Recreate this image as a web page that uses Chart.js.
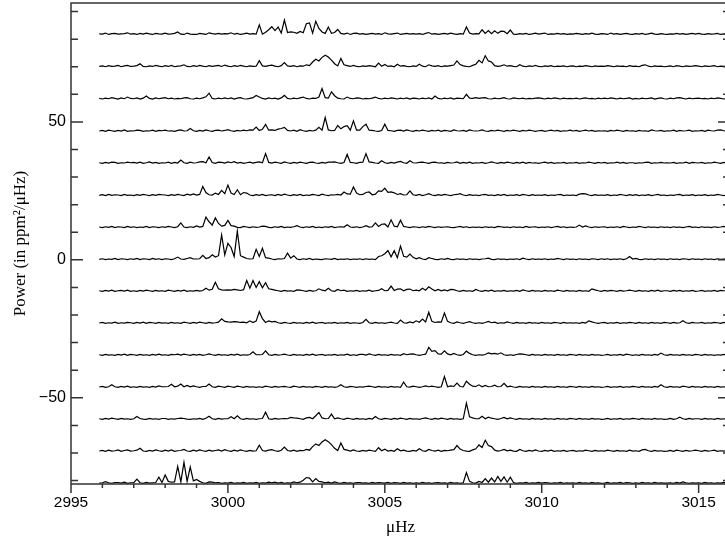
<!DOCTYPE html>
<html><head><meta charset="utf-8">
<script src="https://cdn.jsdelivr.net/npm/chart.js@4.4.1/dist/chart.umd.min.js"></script>
<style>html,body{margin:0;padding:0;background:#fff;overflow:hidden;}#wrap{width:733px;height:536px;}</style>
</head><body><div id="wrap"><canvas id="c" width="733" height="536"></canvas></div>
<script>
// Power spectra (ppm^2/uHz), one value per 0.1 uHz bin starting at 2995.9 uHz
const freqStart = 2995.9, freqStep = 0.1;
const p0 = [0.3,
0.2,0.6,0.1,0.4,0.5,0.2,0.3,0.4,0.7,0.2,
0.4,0.1,0.5,0.2,0.6,0.3,0.1,0.5,0.3,0.2,
0.6,0.2,0.3,0.5,1.0,0.2,0.1,0.6,0.2,0.1,
0.1,0.5,0.3,0.1,0.7,0.4,0.2,0.5,0.2,0.4,
0.3,0.7,0.2,0.5,0.1,0.3,0.6,0.2,0.4,0.2,
3.6,0.2,0.9,1.8,2.9,1.5,2.8,0.6,5.3,0.8,
1.0,0.9,0.5,1.2,0.7,4.0,4.3,0.6,4.9,2.3,
1.0,0.5,2.8,0.5,0.8,1.9,0.5,0.2,0.6,0.1,
0.5,0.6,0.2,0.4,0.1,0.3,0.5,0.2,0.4,0.1,
0.7,0.3,0.2,0.4,0.6,0.1,0.3,0.5,0.2,0.4,
0.2,0.4,0.1,0.5,0.8,0.2,0.4,0.1,0.3,0.5,
0.2,0.6,0.3,0.1,0.4,0.2,2.8,0.6,0.2,0.4,
0.3,1.8,0.5,1.5,0.4,1.4,0.5,1.3,1.2,0.4,
1.7,0.2,0.1,0.4,0.2,0.5,0.1,0.3,0.6,0.2,
0.4,0.6,0.1,0.3,0.2,0.5,0.2,0.4,0.1,0.3,
0.2,0.5,0.3,0.1,0.4,0.2,0.6,0.2,0.1,0.4,
0.3,0.1,0.6,0.2,0.4,0.1,0.3,0.5,0.2,0.1,
0.4,0.2,0.5,0.1,0.3,0.6,0.2,0.1,0.4,0.2,
0.1,0.3,0.2,0.5,0.2,0.4,0.1,0.3,0.5,0.2,
0.5,0.2,0.1,0.4,0.2,0.3,0.5,0.1,0.3,0.2];
const p1 = [0.2,
0.4,0.1,0.5,0.2,0.3,0.6,0.1,0.4,0.6,0.2,
0.3,0.5,1.2,0.2,0.1,0.4,0.2,0.6,0.3,0.1,
0.5,0.2,0.6,0.1,0.3,0.4,0.8,0.2,0.1,0.5,
0.2,0.6,0.3,0.1,0.5,0.2,0.4,0.6,0.2,0.7,
0.3,0.1,0.5,0.2,0.6,0.3,0.1,0.4,0.2,0.3,
2.3,0.4,0.2,0.5,0.7,0.3,0.1,0.5,1.6,0.4,
0.2,0.5,0.1,0.4,0.3,0.8,0.5,1.8,2.8,2.2,
3.5,4.3,3.6,2.5,1.2,0.4,3.1,0.8,0.5,0.2,
0.6,0.2,0.1,0.4,0.2,0.5,0.3,0.1,1.4,0.3,
0.9,0.2,0.4,0.1,1.0,0.3,0.5,0.2,0.1,0.4,
0.2,1.0,0.3,0.1,0.8,0.4,0.2,0.5,0.1,0.4,
0.3,0.5,0.7,2.2,0.9,0.4,0.2,0.1,0.6,1.0,
2.4,1.5,4.1,2.2,1.8,0.5,0.2,0.4,0.8,0.3,
0.5,0.2,0.1,0.8,0.3,0.1,0.4,0.2,0.6,0.2,
0.1,0.4,0.2,0.5,0.1,0.3,0.2,0.4,0.1,0.3,
0.4,0.1,0.3,0.2,0.5,0.3,0.1,0.4,0.2,0.3,
0.2,0.5,0.3,0.1,0.4,0.2,0.3,0.1,0.5,0.2,
0.3,0.1,0.6,0.8,0.3,0.1,0.4,0.2,0.3,0.1,
0.2,0.4,0.1,0.5,0.3,0.1,0.4,0.2,0.3,0.5,
0.3,0.1,0.4,0.2,0.3,0.5,0.1,0.3,0.2,0.4];
const p2 = [0.3,
0.1,0.4,0.2,0.6,0.3,0.1,0.5,0.2,0.8,0.3,
0.2,0.5,0.1,0.4,1.2,0.3,0.1,0.5,0.2,0.4,
0.6,0.2,0.4,0.1,0.3,0.2,0.5,0.6,0.2,0.1,
0.4,0.2,0.5,0.9,2.2,0.3,0.1,0.4,0.2,0.5,
0.2,0.5,0.1,0.4,0.6,0.2,0.1,0.3,0.6,1.4,
0.8,0.3,0.1,0.5,0.2,0.4,0.1,0.5,1.4,0.3,
0.1,0.4,0.2,0.5,0.8,0.3,0.1,0.4,0.3,0.8,
3.9,0.6,0.4,2.7,1.3,0.4,0.2,0.1,0.8,0.3,
0.2,0.5,0.4,0.1,0.3,0.2,0.4,0.8,0.3,0.1,
0.4,0.2,0.5,0.3,0.1,0.4,0.2,0.5,0.1,0.4,
0.3,0.1,0.4,0.2,0.5,0.1,1.2,0.3,0.1,0.4,
0.2,0.5,0.1,0.4,0.3,0.2,1.8,0.4,0.3,0.6,
0.3,0.5,0.6,0.2,0.1,0.4,0.2,0.3,0.6,0.2,
0.1,0.5,0.3,0.2,0.4,0.1,0.3,0.2,0.4,0.5,
0.3,0.1,0.4,0.2,0.5,0.3,0.1,0.4,0.2,0.3,
0.2,0.4,0.1,0.3,0.5,0.2,0.3,0.1,0.4,0.2,
0.4,0.2,0.5,0.3,0.1,0.4,0.2,0.3,0.5,0.1,
0.3,0.1,0.4,0.2,0.3,0.5,0.1,0.3,0.5,0.2,
0.1,0.4,0.2,0.5,0.6,0.3,0.1,0.4,0.2,0.3,
0.4,0.2,0.3,0.1,0.4,0.2,0.5,0.3,0.1,0.3];
const p3 = [0.2,
0.4,0.1,0.5,0.3,0.1,0.4,0.2,0.6,0.1,0.3,
0.2,0.5,0.4,0.1,0.3,0.2,0.5,0.1,0.4,0.3,
0.5,0.2,0.3,0.1,0.4,0.6,0.2,0.3,1.1,0.3,
0.1,0.4,0.2,0.6,0.3,0.1,0.4,0.5,0.2,0.4,
0.7,0.3,0.1,0.4,0.2,0.5,0.3,0.6,0.5,1.6,
0.4,0.8,2.6,0.5,0.6,0.4,0.9,1.1,1.5,0.4,
0.2,0.5,0.1,0.7,0.3,0.1,0.4,0.2,0.5,1.5,
0.5,5.1,0.6,0.3,0.4,2.2,1.0,1.8,2.1,0.5,
3.9,0.5,0.5,1.8,2.7,0.5,0.4,0.2,0.1,0.4,
2.7,0.4,0.3,0.1,0.4,0.5,0.2,0.6,0.3,0.1,
0.4,0.2,0.5,0.3,0.1,0.4,0.2,0.5,0.1,0.4,
0.3,0.1,0.6,0.3,0.2,0.4,0.1,0.6,0.3,0.2,
0.3,0.6,0.2,0.1,0.4,0.2,0.5,0.3,0.1,0.4,
0.2,0.5,0.3,0.1,0.4,0.2,0.5,0.3,0.1,0.3,
0.4,0.1,0.3,0.5,0.2,0.4,0.1,0.3,0.2,0.5,
0.2,0.4,0.1,0.3,0.5,0.2,0.4,0.1,0.3,0.2,
0.3,0.1,0.4,0.2,0.5,0.3,0.1,0.4,0.2,0.3,
0.1,0.4,0.2,0.3,0.1,0.6,0.3,0.2,0.4,0.1,
0.3,0.2,0.5,0.1,0.4,0.2,0.3,0.5,0.1,0.3,
0.2,0.4,0.1,0.5,0.3,0.2,0.5,0.6,0.3,0.1];
const p4 = [0.3,
0.1,0.4,0.2,0.5,0.4,0.1,0.3,0.2,0.5,0.3,
0.4,0.2,0.5,0.1,0.3,0.6,0.2,0.4,0.1,0.3,
0.2,0.5,0.1,0.4,0.2,1.3,0.3,0.1,0.5,0.2,
0.3,0.6,0.7,0.3,2.4,0.4,0.1,0.5,0.4,0.2,
0.6,0.3,0.7,0.2,0.4,0.1,0.3,0.5,0.2,0.4,
0.6,0.3,3.6,0.4,0.2,0.5,0.3,0.1,0.6,0.3,
0.1,0.4,0.2,0.5,0.3,0.1,0.4,0.5,0.2,0.1,
0.4,0.2,0.5,0.5,0.6,0.3,0.1,0.4,3.3,0.4,
0.3,0.1,0.4,0.5,3.6,0.6,0.4,0.2,0.1,1.0,
0.3,0.1,0.4,0.2,0.5,0.8,0.3,0.1,1.0,0.3,
0.2,0.4,0.5,0.3,0.1,0.4,0.5,0.2,0.3,0.1,
0.4,0.2,0.3,0.6,0.1,0.4,0.2,0.5,0.1,0.3,
0.2,0.4,0.1,0.3,0.6,0.3,0.1,0.4,0.2,0.5,
0.3,0.1,0.4,0.2,0.5,0.1,0.4,0.2,0.3,0.1,
0.3,0.5,0.2,0.4,0.1,0.3,0.2,0.4,0.1,0.3,
0.2,0.4,0.1,0.3,0.2,0.5,0.3,0.1,0.4,0.2,
0.4,0.1,0.3,0.2,0.5,0.2,0.4,0.1,0.3,0.3,
0.1,0.3,0.2,0.4,0.5,0.1,0.3,0.2,0.4,0.2,
0.3,0.2,0.4,0.1,0.3,0.2,0.5,0.1,0.4,0.3,
0.2,0.4,0.1,0.3,0.2,0.5,0.3,0.1,0.4,0.2];
const p5 = [0.2,
0.4,0.1,0.5,0.2,0.4,0.3,0.1,0.5,0.2,0.3,
0.1,0.4,0.2,0.5,0.3,0.1,0.4,0.2,0.5,0.4,
0.3,0.1,0.4,0.2,0.5,0.3,0.1,0.6,0.3,0.7,
0.3,0.5,3.4,1.2,0.4,0.3,1.0,0.5,2.0,0.8,
3.9,1.0,0.5,2.2,0.4,1.2,1.0,0.3,0.1,0.4,
0.2,0.5,0.1,0.3,0.4,0.1,0.5,0.2,0.6,0.3,
0.1,0.4,0.2,0.5,0.1,0.3,0.2,0.5,0.3,0.1,
0.6,0.3,0.1,0.4,0.3,0.5,0.3,1.4,0.7,0.6,
3.2,1.0,0.4,0.5,1.2,1.4,0.4,0.6,1.8,1.6,
2.8,1.3,1.4,1.1,0.5,0.8,0.3,0.4,1.8,0.4,
0.2,0.5,0.1,0.4,0.8,0.3,0.1,0.4,0.2,0.5,
0.3,0.1,0.4,0.5,0.8,0.3,0.1,0.4,0.2,0.3,
0.1,0.4,0.5,0.2,0.3,0.1,0.4,0.2,0.5,0.1,
0.3,0.2,0.4,0.1,0.5,0.3,0.1,0.4,0.2,0.3,
0.2,0.4,0.1,0.3,0.2,0.4,0.5,0.1,0.3,0.2,
0.3,0.1,0.6,0.8,0.7,0.3,0.1,0.4,0.2,0.3,
0.2,0.4,0.1,0.3,0.2,0.5,0.3,0.1,0.4,0.2,
0.4,0.1,0.3,0.2,0.4,0.1,0.3,0.5,0.2,0.3,
0.1,0.3,0.2,0.4,0.5,0.1,0.3,0.2,0.4,0.1,
0.3,0.2,0.4,0.1,0.3,0.2,0.5,0.3,0.1,0.3];
const p6 = [0.3,
0.1,0.4,0.2,0.5,0.1,0.4,0.3,0.1,0.5,0.2,
0.4,0.1,0.3,0.2,0.5,0.1,0.4,0.3,0.1,0.4,
0.2,0.5,0.3,0.1,0.4,1.8,0.3,0.1,0.4,0.2,
0.7,0.3,0.5,3.9,2.2,1.0,3.6,1.6,0.6,0.9,
2.7,0.8,0.6,0.2,0.1,0.5,0.3,0.1,0.4,0.2,
0.3,0.6,0.5,0.2,0.1,0.4,0.2,0.5,0.1,0.3,
0.2,0.4,0.8,0.3,0.1,0.4,0.2,0.5,0.1,0.3,
0.1,0.4,0.2,0.5,0.1,0.3,0.4,0.3,1.1,0.3,
0.2,0.4,0.1,0.3,0.8,0.3,0.4,1.8,0.5,1.3,
1.4,0.3,2.9,0.6,0.4,2.8,0.5,0.3,0.1,0.4,
0.3,0.1,0.4,0.2,0.5,0.3,0.1,0.4,0.2,0.3,
0.4,0.2,0.1,0.3,0.5,0.2,0.4,0.1,0.3,0.2,
0.3,0.1,0.4,0.2,0.3,0.1,0.5,0.4,0.2,0.3,
0.1,0.4,0.2,0.3,0.1,0.5,0.2,0.3,0.4,0.1,
0.3,0.2,0.4,0.1,0.3,0.5,0.2,0.4,0.1,0.3,
0.2,0.3,1.0,0.3,0.7,0.3,0.1,0.4,0.2,0.3,
0.4,0.1,0.3,0.2,0.4,0.1,0.5,0.3,0.1,0.3,
0.2,0.5,0.3,0.1,0.4,0.2,0.3,0.1,0.4,0.2,
0.3,0.1,0.4,0.2,0.3,0.1,0.3,0.5,0.2,0.3,
0.1,0.4,0.2,0.3,0.1,0.4,0.2,0.3,0.5,0.2];
const p7 = [0.2,
0.4,0.1,0.3,0.2,0.5,0.1,0.4,0.3,0.1,0.4,
0.2,0.5,0.1,0.4,0.3,0.1,0.5,0.2,0.4,0.1,
0.4,0.3,0.1,0.4,1.0,0.3,0.2,0.5,0.8,0.3,
0.3,0.4,1.6,0.5,0.8,1.8,1.0,1.5,9.0,1.8,
6.0,4.5,1.2,10.4,1.5,1.0,0.5,0.3,0.4,3.8,
1.2,4.2,0.8,0.6,0.3,0.1,0.4,0.3,0.5,2.4,
0.6,1.5,0.3,0.1,0.4,0.2,0.5,0.1,0.3,0.2,
0.1,0.4,0.3,0.2,0.5,0.1,0.3,0.2,0.4,0.1,
0.3,0.2,0.4,0.1,0.4,0.2,0.3,0.1,1.2,1.5,
2.2,3.4,1.1,3.3,0.8,5.0,1.3,1.0,2.1,0.9,
0.4,0.8,0.3,0.1,0.8,0.5,0.2,0.1,0.4,0.2,
0.5,0.2,0.1,0.4,0.2,0.3,0.1,0.4,0.2,0.3,
0.1,0.3,0.4,0.6,0.2,0.1,0.4,0.2,0.3,0.1,
0.3,0.2,0.4,0.1,0.6,0.3,0.1,0.4,0.2,0.3,
0.2,0.4,0.1,0.3,0.2,0.5,0.3,0.1,0.4,0.2,
0.3,0.1,0.4,0.2,0.3,0.1,0.4,0.3,0.1,0.4,
0.2,0.4,0.1,0.3,0.2,0.4,0.1,0.4,1.2,0.3,
0.5,0.2,0.1,0.4,0.2,0.3,0.1,0.4,0.2,0.3,
0.1,0.4,0.2,0.3,0.1,0.4,0.3,0.1,0.4,0.2,
0.3,0.1,0.4,0.2,0.3,0.1,0.4,0.2,0.3,0.4];
const p8 = [0.3,
0.1,0.4,0.2,0.5,0.1,0.3,0.4,0.2,0.5,0.1,
0.3,0.1,0.4,0.2,0.5,0.3,0.1,0.4,0.2,0.3,
0.1,0.5,0.3,0.1,0.4,0.2,0.5,0.1,0.3,0.2,
0.4,0.2,0.4,1.2,0.5,0.8,3.4,1.0,0.6,0.5,
0.6,0.5,0.8,0.6,0.4,0.7,4.0,1.2,4.0,1.5,
3.6,1.4,3.2,1.0,0.8,0.5,0.3,0.1,0.4,0.2,
0.3,0.1,0.6,0.5,0.3,0.1,0.4,0.2,0.3,1.0,
0.5,0.3,1.2,0.3,0.1,0.8,0.3,0.5,0.1,0.3,
0.2,0.4,0.1,0.3,0.2,0.5,0.1,0.3,0.4,1.0,
0.3,0.4,2.0,0.4,0.9,1.0,0.3,0.8,0.9,0.3,
0.5,0.3,1.2,0.5,1.7,0.9,0.3,0.8,0.3,0.6,
0.3,0.8,0.7,0.3,0.1,0.4,0.2,0.3,0.1,0.8,
0.3,0.1,0.4,0.2,0.5,0.1,0.3,0.2,0.4,0.1,
0.3,0.2,0.4,0.1,0.6,0.3,0.1,0.4,0.2,0.3,
0.1,0.4,0.2,0.3,0.1,0.5,0.3,0.1,0.4,0.2,
0.3,0.1,0.4,0.2,0.3,0.1,1.0,0.6,0.3,0.1,
0.4,0.2,0.4,0.3,0.1,0.4,0.2,0.3,0.5,0.3,
0.1,0.4,0.2,0.3,0.1,0.4,0.2,0.5,0.1,0.3,
0.3,0.1,0.4,0.2,0.4,0.1,0.3,0.2,0.4,0.1,
0.2,0.4,0.1,0.3,0.2,0.4,0.1,0.4,0.3,0.2];
const p9 = [0.2,
0.4,0.1,0.3,0.2,0.5,0.1,0.3,0.2,0.4,0.3,
0.1,0.4,0.2,0.5,0.1,0.4,0.3,0.1,0.4,0.2,
0.3,0.1,0.4,0.2,0.3,0.1,0.5,0.3,0.1,0.4,
0.2,0.5,0.3,0.1,0.4,0.2,0.3,0.5,1.7,0.8,
0.6,0.5,0.7,0.6,0.4,0.5,0.3,1.0,0.4,0.9,
4.3,1.8,0.4,1.0,0.6,0.8,0.3,0.1,0.4,0.2,
0.1,0.4,0.2,0.3,0.1,0.4,0.2,0.5,0.1,0.3,
0.4,0.1,0.3,0.2,0.4,0.1,0.3,0.2,0.4,0.1,
0.3,0.2,0.1,0.4,1.5,0.3,0.1,0.4,0.2,0.3,
0.1,0.3,0.5,0.2,0.1,1.3,0.3,0.2,0.6,0.3,
1.0,0.5,1.6,0.6,4.1,0.8,0.4,0.6,0.5,3.8,
0.8,0.3,0.1,0.6,0.3,0.1,0.4,0.7,0.3,0.1,
0.3,0.1,0.4,0.8,0.3,0.5,0.1,0.3,0.2,0.6,
0.3,0.1,0.4,0.2,0.3,0.1,0.4,0.2,0.3,0.1,
0.4,0.2,0.3,0.1,0.4,0.3,0.1,0.4,0.2,0.3,
0.2,0.3,0.1,0.4,0.2,1.0,0.6,0.3,0.1,0.3,
0.4,0.1,0.3,0.2,0.4,0.1,0.3,0.2,0.4,0.3,
0.1,0.4,0.2,0.3,0.1,0.4,0.2,0.3,0.1,0.4,
0.3,0.1,0.4,0.2,0.3,1.0,0.3,0.1,0.4,0.2,
0.2,0.4,0.1,0.3,0.2,0.4,0.3,0.1,0.4,0.2];
const p10 = [0.3,
0.1,0.4,0.2,0.3,0.1,0.4,0.2,0.5,0.1,0.4,
0.3,0.1,0.4,0.2,0.3,0.1,0.4,0.2,0.5,0.2,
0.3,0.1,0.4,0.3,0.5,0.2,0.5,0.3,0.1,0.4,
0.2,0.4,0.1,0.3,0.6,0.3,0.1,0.4,0.2,0.3,
0.1,0.4,0.2,0.5,0.1,0.3,0.2,0.4,1.4,0.3,
0.3,0.4,1.7,0.3,0.1,0.4,0.2,0.3,0.5,0.2,
0.1,0.4,0.2,0.3,0.1,0.4,0.2,0.5,0.1,0.3,
0.4,0.1,0.3,0.2,0.4,0.1,0.3,0.2,0.5,0.1,
0.3,0.1,0.4,0.4,0.2,0.6,0.3,0.1,0.4,0.2,
0.3,0.1,0.4,0.2,0.3,0.1,0.7,0.3,0.5,0.6,
0.3,0.1,0.3,0.5,3.0,1.5,1.8,0.6,0.5,1.7,
0.6,0.3,0.8,0.3,0.1,0.4,1.6,0.8,0.3,0.1,
0.3,0.2,0.4,1.0,0.6,0.8,0.5,1.0,0.3,0.1,
0.3,0.1,0.4,0.6,0.5,0.3,0.1,0.4,0.2,0.3,
0.1,0.4,0.2,0.3,0.1,0.4,0.2,0.3,0.1,0.4,
0.3,0.1,0.4,0.2,0.3,0.1,0.4,0.2,0.3,0.1,
0.2,0.4,0.1,0.3,0.2,0.4,0.1,0.5,0.3,0.1,
0.3,0.1,0.4,0.2,0.3,0.1,0.4,0.2,0.9,0.3,
0.1,0.4,0.2,0.3,0.1,0.4,0.2,0.3,0.1,0.4,
0.3,0.1,0.4,0.2,0.3,0.1,0.3,0.2,0.4,0.2];
const p11 = [0.2,
0.4,0.1,0.3,1.0,0.3,0.1,0.4,0.2,0.5,0.1,
0.3,0.1,0.4,0.2,0.3,0.1,0.4,0.2,0.6,0.3,
0.3,0.4,1.2,0.3,0.5,1.3,0.3,0.8,0.3,0.6,
0.3,0.1,0.4,0.4,1.3,0.3,0.1,0.5,0.3,0.1,
0.5,0.3,0.1,0.5,0.3,0.1,0.4,0.2,0.3,0.1,
0.3,0.1,0.5,0.3,0.1,0.4,0.2,0.3,0.4,0.2,
0.1,0.5,0.3,0.1,0.4,0.2,0.3,0.1,0.4,0.3,
0.1,0.4,0.2,0.3,0.1,0.3,1.0,0.3,0.1,0.4,
0.3,0.1,0.3,0.2,0.4,0.5,0.3,0.1,0.4,0.2,
0.3,0.1,0.4,0.2,0.3,0.1,2.0,0.3,0.2,0.5,
0.3,0.1,0.3,0.6,0.3,0.5,0.3,0.1,0.3,4.0,
0.3,0.6,0.4,1.6,0.4,0.3,2.3,1.2,0.5,0.4,
1.0,0.3,0.8,0.3,0.4,0.9,0.3,0.4,1.5,0.3,
0.5,0.2,0.1,0.4,0.2,0.3,0.1,0.4,0.2,0.3,
0.1,0.4,0.2,0.3,0.1,0.4,0.2,0.3,0.1,0.4,
0.3,0.1,0.4,0.2,0.3,0.1,0.4,0.2,0.3,0.1,
0.2,0.4,0.1,0.3,0.2,0.4,0.1,0.3,0.2,0.4,
0.3,0.1,0.4,0.2,0.3,0.1,0.4,0.2,1.0,0.3,
0.1,0.4,0.2,0.3,0.1,0.5,0.3,0.1,0.4,0.2,
0.3,0.1,0.4,0.2,0.3,0.1,0.4,0.2,0.3,0.1];
const p12 = [0.3,
0.1,0.4,0.2,0.5,0.3,0.1,0.4,0.2,0.3,0.1,
0.3,1.1,0.4,0.2,0.1,0.4,0.2,0.3,0.1,0.4,
0.4,0.1,0.3,0.2,0.4,0.5,0.4,0.2,0.1,0.3,
0.2,0.4,0.1,0.5,1.2,0.3,0.1,0.4,0.2,0.3,
0.3,1.0,0.3,1.4,0.3,0.1,0.4,0.2,0.3,0.1,
0.3,0.4,2.7,0.3,0.1,0.4,0.2,0.3,0.4,0.3,
0.8,0.6,0.5,0.3,0.1,0.6,0.8,0.3,1.4,2.6,
0.6,0.3,0.4,2.0,0.3,0.6,0.3,0.1,0.5,0.3,
0.1,0.4,0.2,0.3,0.1,0.4,0.2,1.1,0.3,0.1,
0.4,0.3,0.1,0.4,0.2,0.5,0.3,0.1,0.4,0.2,
0.3,0.1,0.4,0.6,0.3,0.1,0.4,0.2,0.5,0.3,
0.1,0.4,0.2,0.3,0.1,0.3,6.0,1.0,0.6,0.3,
0.3,1.2,0.3,0.9,0.5,0.3,0.1,0.4,0.8,0.3,
0.6,0.3,0.1,0.4,0.2,0.3,0.1,0.4,0.2,0.3,
0.1,0.4,0.2,0.3,0.1,0.4,0.2,0.3,0.1,0.4,
0.3,0.1,0.4,0.2,0.3,0.1,0.4,0.2,0.3,0.1,
0.2,0.4,0.1,0.3,0.2,0.4,0.1,0.3,0.2,0.4,
0.3,0.1,0.4,0.2,0.3,0.1,0.4,0.2,0.3,0.1,
0.2,0.4,0.1,0.3,0.9,0.3,0.1,0.4,0.2,0.3,
0.3,0.1,0.4,0.2,0.3,0.1,0.4,0.2,0.3,0.2];
const p13 = [0.2,
0.4,0.1,0.5,0.2,0.3,0.6,0.1,0.4,0.6,0.2,
0.3,0.5,1.2,0.2,0.1,0.4,0.2,0.6,0.3,0.1,
0.5,0.2,0.6,0.1,0.3,0.4,0.8,0.2,0.1,0.5,
0.2,0.6,0.3,0.1,0.5,0.2,0.4,0.6,0.2,0.7,
0.3,0.1,0.5,0.2,0.6,0.3,0.1,0.4,0.2,0.3,
2.3,0.4,0.2,0.5,0.7,0.3,0.1,0.5,1.6,0.4,
0.2,0.5,0.1,0.4,0.3,0.8,0.5,1.8,2.8,2.2,
3.5,4.3,3.6,2.5,1.2,0.4,3.1,0.8,0.5,0.2,
0.6,0.2,0.1,0.4,0.2,0.5,0.3,0.1,1.4,0.3,
0.9,0.2,0.4,0.1,1.0,0.3,0.5,0.2,0.1,0.4,
0.2,1.0,0.3,0.1,0.8,0.4,0.2,0.5,0.1,0.4,
0.3,0.5,0.7,2.2,0.9,0.4,0.2,0.1,0.6,1.0,
2.4,1.5,4.1,2.2,1.8,0.5,0.2,0.4,0.8,0.3,
0.5,0.2,0.1,0.8,0.3,0.1,0.4,0.2,0.6,0.2,
0.1,0.4,0.2,0.5,0.1,0.3,0.2,0.4,0.1,0.3,
0.4,0.1,0.3,0.2,0.5,0.3,0.1,0.4,0.2,0.3,
0.2,0.5,0.3,0.1,0.4,0.2,0.3,0.1,0.5,0.2,
0.3,0.1,0.6,0.8,0.3,0.1,0.4,0.2,0.3,0.1,
0.2,0.4,0.1,0.5,0.3,0.1,0.4,0.2,0.3,0.5,
0.3,0.1,0.4,0.2,0.3,0.5,0.1,0.3,0.2,0.4];
const p14 = [0.2,
0.3,0.7,0.3,0.1,0.4,0.4,0.2,0.5,0.1,0.3,
0.3,1.6,0.3,0.1,0.4,0.2,0.3,0.4,2.3,0.4,
3.1,0.8,0.5,0.6,6.2,0.6,7.7,0.8,6.0,1.0,
1.5,0.8,0.3,0.1,0.6,0.5,0.3,0.4,0.1,0.3,
0.2,0.4,0.1,0.3,0.2,0.4,0.1,0.3,0.2,0.4,
0.1,0.3,0.2,0.5,0.3,0.5,0.2,0.4,0.1,0.3,
0.2,0.6,0.3,0.5,1.2,2.2,2.0,0.6,1.8,0.8,
0.6,0.3,0.5,0.2,0.6,0.3,0.1,0.4,0.2,0.3,
0.1,0.4,0.4,0.2,0.3,0.1,0.4,0.2,0.4,0.3,
0.2,0.4,0.1,0.4,0.3,0.1,0.4,0.2,0.3,0.1,
0.3,0.1,0.4,0.2,0.3,0.1,0.3,0.4,0.2,0.3,
0.1,0.4,0.2,0.3,0.1,0.3,4.0,0.8,0.3,0.2,
0.8,0.4,1.8,0.5,2.0,0.6,2.6,0.8,2.4,0.5,
2.3,0.4,0.1,0.3,0.2,0.4,0.1,0.3,0.2,0.4,
0.2,0.4,0.3,0.1,0.3,0.2,0.4,0.1,0.3,0.2,
0.3,0.1,0.4,0.2,0.3,0.1,0.4,0.2,0.3,0.1,
0.2,0.4,0.1,0.3,0.2,0.4,0.1,0.4,0.3,0.1,
0.3,0.1,0.4,0.2,0.3,0.1,0.4,0.2,0.3,0.2,
0.2,0.3,0.1,0.4,0.2,0.6,0.3,0.1,0.3,0.2,
0.3,0.1,0.4,0.2,0.3,0.1,0.3,0.2,0.4,0.2];

const spectra = [p0,p1,p2,p3,p4,p5,p6,p7,p8,p9,p10,p11,p12,p13,p14];
// vertical offset of each stacked spectrum
const offsets = [81.6,69.9,58.2,46.5,34.9,23.2,11.6,0,-11.5,-23.1,-34.7,-46.3,-57.9,-69.5,-81.1];
const xRange = [2995, 3016];
const yRange = [-81.25, 93.1];
const xTickValues = [2995, 3000, 3005, 3010, 3015];
const xMinorTicks = [2995,2996,2997,2998,2999,3000,3001,3002,3003,3004,3005,3006,3007,3008,3009,3010,3011,3012,3013,3014,3015];
const yTickValues = [-50, 0, 50];
const yMinorTicks = [-80,-70,-60,-50,-40,-30,-20,-10,0,10,20,30,40,50,60,70,80,90];

const datasets = spectra.map((s, k) => ({
  data: s.map((v, i) => ({x: +(freqStart + i * freqStep).toFixed(2), y: offsets[k] + v})),
  borderColor: '#000', borderWidth: 1.2, pointRadius: 0, tension: 0, fill: false
}));

const frame = {
  id: 'frame',
  afterDatasetsDraw(chart) {
    const {ctx, chartArea: a, scales: {x, y}} = chart;
    ctx.save();
    ctx.strokeStyle = '#333';
    ctx.lineWidth = 1.5;
    ctx.beginPath();
    ctx.rect(a.left, a.top, a.right - a.left, a.bottom - a.top);
    yMinorTicks.forEach(v => {
      const py = y.getPixelForValue(v);
      const len = yTickValues.includes(v) ? 12 : 7;
      ctx.moveTo(a.left, py); ctx.lineTo(a.left + len, py);
      ctx.moveTo(a.right, py); ctx.lineTo(a.right - len, py);
    });
    xMinorTicks.forEach(v => {
      const px = x.getPixelForValue(v);
      const len = xTickValues.includes(v) ? 9 : 4;
      ctx.moveTo(px, a.bottom); ctx.lineTo(px, a.bottom + len);
    });
    ctx.stroke();
    ctx.restore();
  }
};

new Chart(document.getElementById('c'), {
  type: 'line',
  data: {datasets},
  plugins: [frame],
  options: {
    responsive: false, animation: false, devicePixelRatio: 1,
    layout: {padding: {top: 3, right: 3, left: 0, bottom: 0}},
    plugins: {legend: {display: false}, tooltip: {enabled: false}},
    scales: {
      x: {
        type: 'linear', min: xRange[0], max: xRange[1],
        afterFit: s => { s.height = 52; s.paddingLeft = 0; s.paddingRight = 0; },
        afterBuildTicks: s => { s.ticks = xTickValues.map(v => ({value: v})); },
        grid: {display: false, drawTicks: false}, border: {display: false},
        ticks: {color: '#000', font: {family: 'Liberation Sans', size: 15.5}, padding: 9, maxRotation: 0, autoSkip: false, callback: v => String(v)},
        title: {display: true, text: 'μHz', color: '#000', font: {family: 'Liberation Serif', size: 17, lineHeight: 1.0}, padding: {top: 0, bottom: 0}}
      },
      y: {
        type: 'linear', min: yRange[0], max: yRange[1],
        afterFit: s => { s.width = 71; s.paddingTop = 0; s.paddingBottom = 0; },
        afterBuildTicks: s => { s.ticks = yTickValues.map(v => ({value: v})); },
        grid: {display: false, drawTicks: false}, border: {display: false},
        ticks: {color: '#000', font: {family: 'Liberation Sans', size: 16}, padding: 5, autoSkip: false, callback: v => v < 0 ? '\u2212' + Math.abs(v) : String(v)},
        title: {display: true, text: 'Power (in ppm²/μHz)', color: '#000', font: {family: 'Liberation Serif', size: 17}, padding: {top: 10, bottom: 0}}
      }
    }
  }
});
</script></body></html>
